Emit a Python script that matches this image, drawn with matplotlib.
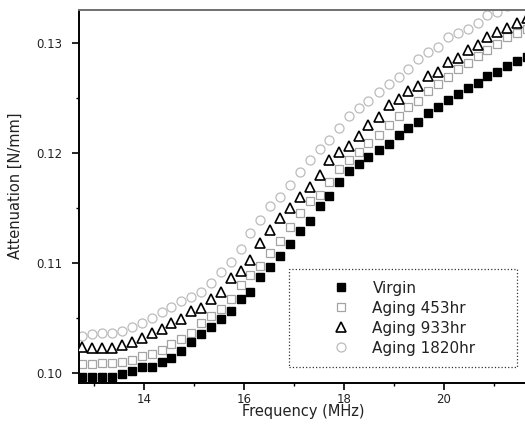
import matplotlib
matplotlib.use("Agg")
import matplotlib.pyplot as plt
from matplotlib.ticker import MultipleLocator, FormatStrFormatter

plt.rcParams['font.family'] = ['DejaVu Sans']

# Frequency sweep (MHz)
freq = [12.76, 12.96, 13.16, 13.35, 13.55, 13.75, 13.95, 14.15, 14.35, 14.54,
        14.74, 14.94, 15.14, 15.33, 15.53, 15.73, 15.93, 16.12, 16.32, 16.52,
        16.72, 16.91, 17.11, 17.31, 17.51, 17.70, 17.90, 18.10, 18.30, 18.49,
        18.69, 18.89, 19.09, 19.28, 19.48, 19.68, 19.88, 20.07, 20.27, 20.47,
        20.67, 20.86, 21.06, 21.26, 21.46, 21.66]

# Attenuation (N/mm) for each aging state
virgin = [0.0996, 0.0996, 0.0996, 0.0996, 0.0999, 0.1002, 0.1005, 0.1005, 0.1010, 0.1014,
          0.1020, 0.1028, 0.1035, 0.1042, 0.1049, 0.1056, 0.1067, 0.1074, 0.1087, 0.1096,
          0.1106, 0.1117, 0.1129, 0.1138, 0.1152, 0.1161, 0.1174, 0.1184, 0.1190, 0.1196,
          0.1203, 0.1208, 0.1216, 0.1223, 0.1228, 0.1236, 0.1242, 0.1248, 0.1254, 0.1259,
          0.1264, 0.1270, 0.1274, 0.1279, 0.1284, 0.1287]
aging_453 = [0.1008, 0.1008, 0.1009, 0.1009, 0.1010, 0.1012, 0.1015, 0.1017, 0.1021, 0.1026,
             0.1031, 0.1036, 0.1045, 0.1052, 0.1058, 0.1067, 0.1080, 0.1089, 0.1097, 0.1109,
             0.1120, 0.1133, 0.1145, 0.1156, 0.1162, 0.1174, 0.1185, 0.1194, 0.1201, 0.1209,
             0.1216, 0.1225, 0.1234, 0.1242, 0.1247, 0.1256, 0.1263, 0.1269, 0.1276, 0.1282,
             0.1288, 0.1294, 0.1299, 0.1305, 0.1309, 0.1313]
aging_933 = [0.1024, 0.1023, 0.1023, 0.1023, 0.1025, 0.1028, 0.1032, 0.1036, 0.1040, 0.1045,
             0.1049, 0.1056, 0.1059, 0.1067, 0.1074, 0.1086, 0.1093, 0.1103, 0.1118, 0.1130,
             0.1141, 0.1150, 0.1160, 0.1169, 0.1180, 0.1194, 0.1201, 0.1206, 0.1215, 0.1225,
             0.1233, 0.1244, 0.1249, 0.1256, 0.1261, 0.1270, 0.1274, 0.1283, 0.1286, 0.1294,
             0.1298, 0.1305, 0.1310, 0.1314, 0.1318, 0.1323]
aging_1820 = [0.1034, 0.1035, 0.1036, 0.1036, 0.1038, 0.1042, 0.1045, 0.1050, 0.1055, 0.1060,
              0.1065, 0.1069, 0.1074, 0.1082, 0.1092, 0.1101, 0.1113, 0.1127, 0.1139, 0.1152,
              0.1160, 0.1171, 0.1183, 0.1194, 0.1204, 0.1212, 0.1223, 0.1234, 0.1241, 0.1247,
              0.1255, 0.1263, 0.1269, 0.1276, 0.1285, 0.1292, 0.1296, 0.1305, 0.1309, 0.1313,
              0.1318, 0.1325, 0.1328, 0.1334, 0.1338, 0.1343]

labels = ["Virgin", "Aging 453hr", "Aging 933hr", "Aging 1820hr"]
x_ticks = [14, 16, 18, 20]
y_ticks = [0.10, 0.11, 0.12, 0.13]

fig = plt.figure(figsize=(5.25, 4.24), dpi=100)
ax = fig.add_axes([79 / 525, 41 / 424, 448 / 525, 373 / 424])

ax.plot(freq, aging_1820, linestyle='none', marker='o', ms=6.5, mfc='none',
        mec='#bcbcbc', mew=0.9, label=labels[3], zorder=2)
ax.plot(freq, aging_933, linestyle='none', marker='^', ms=7, mfc='white',
        mec='black', mew=1.2, label=labels[2], zorder=3)
ax.plot(freq, aging_453, linestyle='none', marker='s', ms=5.5, mfc='none',
        mec='#a4a4a4', mew=0.9, label=labels[1], zorder=2)
ax.plot(freq, virgin, linestyle='none', marker='s', ms=6, mfc='black',
        mec='black', label=labels[0], zorder=4)

ax.set_xlim(12.70, 21.66)
ax.set_ylim(0.09909, 0.1330)

ax.set_xticks(x_ticks)
ax.set_yticks(y_ticks)
ax.xaxis.set_minor_locator(MultipleLocator(1))
ax.yaxis.set_minor_locator(MultipleLocator(0.005))
ax.yaxis.set_major_formatter(FormatStrFormatter('%.2f'))
ax.tick_params(which='major', direction='out', length=5, width=1.2,
               labelsize=8.5, labelcolor='#222222')
ax.tick_params(which='minor', direction='out', length=2.5, width=1.0)
ax.tick_params(axis='y', pad=7)
ax.tick_params(axis='x', pad=2)

for side in ('left', 'bottom'):
    ax.spines[side].set_linewidth(1.4)
ax.spines['top'].set_linewidth(1.4)
ax.spines['top'].set_color('#707070')
ax.spines['right'].set_visible(False)

ax.set_xlabel("Frequency (MHz)", fontsize=10.5, color='#222222', labelpad=-1)
ax.set_ylabel("Attenuation [N/mm]", fontsize=10.5, color='#222222')
ax.yaxis.set_label_coords(-0.125, 0.53)

handles, labs = ax.get_legend_handles_labels()
order = [3, 2, 1, 0]
leg = ax.legend([handles[i] for i in order], [labs[i] for i in order],
                loc='lower left', bbox_to_anchor=(0.469, 0.043, 0.509, 0.263),
                mode='expand', fontsize=11, frameon=True, fancybox=False,
                handlelength=5.3, handletextpad=-0.6, labelspacing=0.32,
                borderpad=0.75, borderaxespad=0)
frame = leg.get_frame()
frame.set_edgecolor('black')
frame.set_linewidth(0.9)
frame.set_linestyle(':')
for t in leg.get_texts():
    t.set_color('#222222')

fig.savefig("out.png", dpi=100)
